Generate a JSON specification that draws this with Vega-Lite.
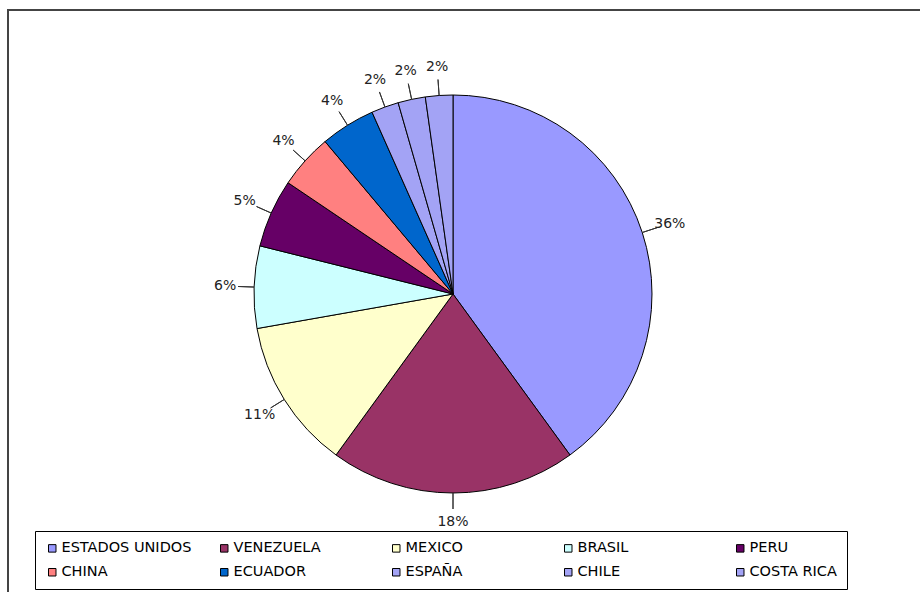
{
  "$schema": "https://vega.github.io/schema/vega-lite/v6.json",
  "autosize": {"type": "none"},
  "padding": {"left": 8, "top": 10, "right": 0, "bottom": 0},
  "width": 930,
  "height": 600,
  "background": "white",
  "config": {
    "view": {"stroke": null},
    "font": "DejaVu Sans"
  },
  "data": {
    "values": [
      {"pais": "ESTADOS UNIDOS", "valor": 36, "etiqueta": "36%", "i": 1},
      {"pais": "VENEZUELA", "valor": 18, "etiqueta": "18%", "i": 2},
      {"pais": "MEXICO", "valor": 11, "etiqueta": "11%", "i": 3},
      {"pais": "BRASIL", "valor": 6, "etiqueta": "6%", "i": 4},
      {"pais": "PERU", "valor": 5, "etiqueta": "5%", "i": 5},
      {"pais": "CHINA", "valor": 4, "etiqueta": "4%", "i": 6},
      {"pais": "ECUADOR", "valor": 4, "etiqueta": "4%", "i": 7},
      {"pais": "ESPAÑA", "valor": 2, "etiqueta": "2%", "i": 8},
      {"pais": "CHILE", "valor": 2, "etiqueta": "2%", "i": 9},
      {"pais": "COSTA RICA", "valor": 2, "etiqueta": "2%", "i": 10}
    ]
  },
  "layer": [
    {
      "mark": {"type": "rect", "fill": "transparent", "stroke": "#444", "strokeWidth": 1.5},
      "encoding": {}
    },
    {
      "mark": {
        "type": "arc",
        "outerRadius": 199,
        "stroke": "#000",
        "strokeWidth": 1,
        "x": {"expr": "width/2-20"},
        "y": {"expr": "height/2-16"}
      },
      "encoding": {
        "theta": {"field": "valor", "type": "quantitative", "stack": true},
        "order": {"field": "i", "type": "quantitative"},
        "color": {
          "field": "pais",
          "type": "nominal",
          "sort": null,
          "scale": {
            "domain": ["ESTADOS UNIDOS", "VENEZUELA", "MEXICO", "BRASIL", "PERU", "CHINA", "ECUADOR", "ESPAÑA", "CHILE", "COSTA RICA"],
            "range": ["#9999FF", "#993366", "#FFFFCC", "#CCFFFF", "#660066", "#FF8080", "#0066CC", "#A3A3F5", "#A3A3F5", "#A3A3F5"]
          },
          "legend": {
            "title": null,
            "orient": "none",
            "legendX": 27,
            "legendY": 521,
            "direction": "horizontal",
            "columns": 5,
            "gridAlign": "all",
            "symbolType": "square",
            "symbolSize": 56,
            "symbolStrokeColor": "#000",
            "symbolStrokeWidth": 1,
            "symbolOpacity": 1,
            "labelFont": "DejaVu Sans",
            "labelFontSize": 14.5,
            "labelColor": "#000",
            "labelOffset": 2,
            "labelLimit": 300,
            "strokeColor": "#000",
            "padding": 10,
            "columnPadding": 25,
            "rowPadding": 9
          }
        }
      }
    },
    {
      "mark": {
        "type": "arc",
        "innerRadius": 199,
        "outerRadius": 215,
        "padAngle": 3,
        "fill": "transparent",
        "stroke": "#333",
        "strokeWidth": 1,
        "x": {"expr": "width/2-20"},
        "y": {"expr": "height/2-16"}
      },
      "encoding": {
        "theta": {"field": "valor", "type": "quantitative", "stack": true},
        "order": {"field": "i", "type": "quantitative"}
      }
    },
    {
      "mark": {
        "type": "text",
        "radius": 228,
        "fontSize": 14,
        "color": "#222",
        "font": "DejaVu Sans",
        "x": {"expr": "width/2-20"},
        "y": {"expr": "height/2-16"}
      },
      "encoding": {
        "theta": {"field": "valor", "type": "quantitative", "stack": true},
        "order": {"field": "i", "type": "quantitative"},
        "text": {"field": "etiqueta", "type": "nominal"}
      }
    }
  ]
}
